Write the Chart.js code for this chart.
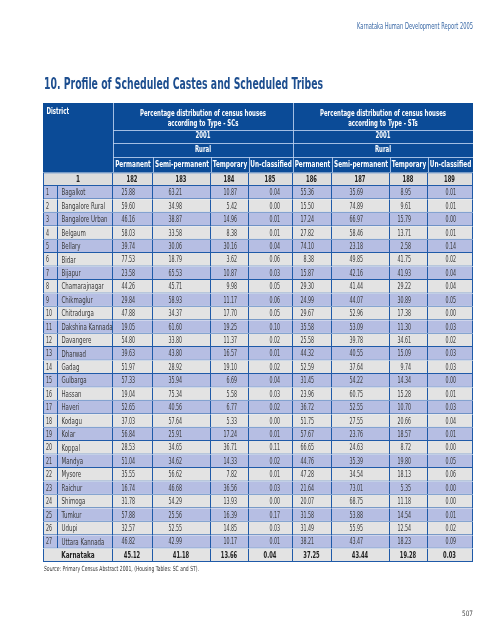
<!DOCTYPE html>
<html><head><meta charset="utf-8">
<script src="https://cdn.jsdelivr.net/npm/chart.js@4"></script>
<style>
html,body{margin:0;padding:0;background:#fff;width:495px;height:640px;overflow:hidden;}
#wrap{position:relative;width:495px;height:640px;}
canvas{position:absolute;left:0;top:0;}
.t{position:absolute;white-space:nowrap;transform-origin:0 50%;font-family:'Liberation Sans Narrow','DejaVu Sans Condensed',sans-serif;}
#runhead{top:23px;font-size:8px;line-height:8px;color:#3a69a6;}
#title{top:76px;font-size:16px;line-height:16px;font-weight:bold;color:#1d4e8f;}
#source{top:565.5px;font-size:7px;line-height:7px;color:#333;}
#pagenum{top:610px;font-size:7.5px;line-height:8px;color:#444;}
</style></head>
<body><div id="wrap">
<canvas id="c" width="495" height="640"></canvas>
<div class="t" id="runhead">Karnataka Human Development Report 2005</div>
<div class="t" id="title">10. Profile of Scheduled Castes and Scheduled Tribes</div>
<div class="t" id="source"><i>Source</i>: Primary Census Abstract 2001, (Housing Tables: SC and ST).</div>
<div class="t" id="pagenum">507</div>
</div>
<script>
// ---------- DATA ----------
const districts = ['Bagalkot','Bangalore Rural','Bangalore Urban','Belgaum','Bellary','Bidar','Bijapur','Chamarajnagar','Chikmaglur','Chitradurga','Dakshina Kannada','Davangere','Dharwad','Gadag','Gulbarga','Hassan','Haveri','Kodagu','Kolar','Koppal','Mandya','Mysore','Raichur','Shimoga','Tumkur','Udupi','Uttara Kannada'];
const scPermanent = ['25.88','59.60','46.16','58.03','39.74','77.53','23.58','44.26','29.84','47.88','19.05','54.80','39.63','51.97','57.33','19.04','52.65','37.03','56.84','28.53','51.04','35.55','16.74','31.78','57.88','32.57','46.82'];
const scSemiPermanent = ['63.21','34.98','38.87','33.58','30.06','18.79','65.53','45.71','58.93','34.37','61.60','33.80','43.80','28.92','35.94','75.34','40.56','57.64','25.91','34.65','34.62','56.62','46.68','54.29','25.56','52.55','42.99'];
const scTemporary = ['10.87','5.42','14.96','8.38','30.16','3.62','10.87','9.98','11.17','17.70','19.25','11.37','16.57','19.10','6.69','5.58','6.77','5.33','17.24','36.71','14.33','7.82','36.56','13.93','16.39','14.85','10.17'];
const scUnclassified = ['0.04','0.00','0.01','0.01','0.04','0.06','0.03','0.05','0.06','0.05','0.10','0.02','0.01','0.02','0.04','0.03','0.02','0.00','0.01','0.11','0.02','0.01','0.03','0.00','0.17','0.03','0.01'];
const stPermanent = ['55.36','15.50','17.24','27.82','74.10','8.38','15.87','29.30','24.99','29.67','35.58','25.58','44.32','52.59','31.45','23.96','36.72','51.75','57.67','66.65','44.76','47.28','21.64','20.07','31.58','31.49','38.21'];
const stSemiPermanent = ['35.69','74.89','66.97','58.46','23.18','49.85','42.16','41.44','44.07','52.96','53.09','39.78','40.55','37.64','54.22','60.75','52.55','27.55','23.76','24.63','35.39','34.54','73.01','68.75','53.88','55.95','43.47'];
const stTemporary = ['8.95','9.61','15.79','13.71','2.58','41.75','41.93','29.22','30.89','17.38','11.30','34.61','15.09','9.74','14.34','15.28','10.70','20.66','18.57','8.72','19.80','18.13','5.35','11.18','14.54','12.54','18.23'];
const stUnclassified = ['0.01','0.01','0.00','0.01','0.14','0.02','0.04','0.04','0.05','0.00','0.03','0.02','0.03','0.03','0.00','0.01','0.03','0.04','0.01','0.00','0.05','0.06','0.00','0.00','0.01','0.02','0.09'];
const stateName = 'Karnataka';
const scState = ['45.12','41.18','13.66','0.04'];
const stState = ['37.25','43.44','19.28','0.03'];
const columnNumbers = ['1','182','183','184','185','186','187','188','189'];
const typeLabels = ['Permanent','Semi-permanent','Temporary','Un-classified'];
const groupHeadings = [['Percentage distribution of census houses','according to Type - SCs'],['Percentage distribution of census houses','according to Type - STs']];
const yearLabel = '2001';
const areaLabel = 'Rural';
const districtHeader = 'District';

// ---------- LAYOUT ----------
const colWidths = [15, 55, 40, 58, 38, 44, 39, 58, 38, 45];
const valuePad = [18, 29, 12, 13, 18, 27, 17, 17];
const headerRowHeights = [26.5, 13.5, 14, 15.5];
const FONT = "'Liberation Sans Narrow','DejaVu Sans Condensed',sans-serif";
const C = {head:'#0b4b97', headLine:'rgba(190,210,240,0.85)', grid:'#1f5aa8', odd:'#b6bee3', even:'#e3e3e3', numRow:'#dcdcdc', text:'#3a3a3a', bold:'#222'};

const valueCols = [scPermanent, scSemiPermanent, scTemporary, scUnclassified, stPermanent, stSemiPermanent, stTemporary, stUnclassified];
const stateVals = scState.concat(stState);
const rowLabels = [columnNumbers[0]].concat(districts, [stateName]);
const N = rowLabels.length;

function rowFill(i){ if(i===0) return C.numRow; if(i===N-1) return C.even; return (i%2===1)?C.odd:C.even; }

const datasets = colWidths.map((w,j)=>({
  data: rowLabels.map(()=>w),
  backgroundColor: ctx=>rowFill(ctx.dataIndex),
  borderColor: C.grid,
  borderSkipped: false,
  inflateAmount: 0,
  borderWidth: ctx=>{
    const i=ctx.dataIndex, merged=(i===0||i===N-1);
    return {top: i===0?1:0, bottom:1, left: j===0?1:0, right: (merged&&j===0)?0:1};
  },
  barPercentage:1, categoryPercentage:1
}));

const SC = {};
function calib(ctx){
  const m=(s,b,sz)=>{ctx.font=(b?'bold ':'')+sz+'px '+FONT; return ctx.measureText(s).width;};
  SC.text = 51/m('Dakshina Kannada',false,8.5);
  SC.num = 13.6/m('25.88',false,8);
  SC.boldNum = 16.4/m('45.12',true,8.5);
  SC.head = 126/m('Percentage distribution of census houses',true,8.5);
  SC.label = 54/m('Semi-permanent',true,8.5);
}
function txt(ctx, s, x, y, align, bold, size, k){
  ctx.save();
  ctx.font = (bold?'bold ':'')+size+'px '+FONT;
  ctx.translate(x,y); ctx.scale(k,1);
  ctx.textAlign = align; ctx.textBaseline='middle';
  ctx.fillText(s,0,0);
  ctx.restore();
}

const tablePlugin = {
  id:'tableText',
  beforeDatasetsDraw(chart){
    const ctx=chart.ctx, xs=chart.scales.x, a=chart.chartArea;
    ctx.save(); calib(ctx); ctx.restore();
    const cum=[0]; colWidths.forEach(w=>cum.push(cum[cum.length-1]+w));
    const X = cum.map(v=>xs.getPixelForValue(v));
    const H = headerRowHeights.reduce((p,c)=>p+c,0);
    const top = a.top - H;
    const ys=[top]; headerRowHeights.forEach(h=>ys.push(ys[ys.length-1]+h));
    ctx.save();
    ctx.fillStyle=C.head; ctx.fillRect(X[0], top, X[10]-X[0], H);
    ctx.strokeStyle=C.headLine; ctx.lineWidth=1;
    ctx.beginPath();
    for(let r=1;r<4;r++){ ctx.moveTo(X[2], Math.round(ys[r])+0.5); ctx.lineTo(X[10], Math.round(ys[r])+0.5); }
    [2,6].forEach(k=>{ ctx.moveTo(Math.round(X[k])+0.5, top); ctx.lineTo(Math.round(X[k])+0.5, a.top); });
    [3,4,5,7,8,9].forEach(k=>{ ctx.moveTo(Math.round(X[k])+0.5, ys[3]); ctx.lineTo(Math.round(X[k])+0.5, a.top); });
    ctx.stroke();
    ctx.fillStyle='#fff';
    txt(ctx, districtHeader, X[0]+3.5, top+8.7, 'left', true, 8, SC.label);
    [[2,6],[6,10]].forEach(([s,e],g)=>{
      const cx=(X[s]+X[e])/2;
      txt(ctx, groupHeadings[g][0], cx, top+10.3, 'center', true, 8.5, SC.head);
      txt(ctx, groupHeadings[g][1], cx, top+20.3, 'center', true, 8.5, SC.head);
      txt(ctx, yearLabel, cx, (ys[1]+ys[2])/2, 'center', true, 8.5, SC.head);
      txt(ctx, areaLabel, cx, (ys[2]+ys[3])/2, 'center', true, 8.5, SC.head);
      for(let k=0;k<4;k++){
        txt(ctx, typeLabels[k], (X[s+k]+X[s+k+1])/2, (ys[3]+ys[4])/2+0.5, 'center', true, 8.5, SC.label);
      }
    });
    ctx.restore();
  },
  afterDatasetsDraw(chart){
    const ctx=chart.ctx;
    const metas = colWidths.map((w,j)=>chart.getDatasetMeta(j).data);
    ctx.save();
    for(let i=0;i<N;i++){
      const y = metas[0][i].y+0.5;
      const merged = (i===0||i===N-1);
      if(merged){
        const cx=(metas[0][i].base+metas[1][i].x)/2;
        ctx.fillStyle=C.bold;
        txt(ctx, i===0?columnNumbers[0]:stateName, cx, y, 'center', true, 8.5, SC.label);
        for(let k=0;k<8;k++){
          const el=metas[k+2][i];
          txt(ctx, i===0?columnNumbers[k+1]:stateVals[k], (el.base+el.x)/2-1, y, 'center', true, 8.5, SC.boldNum);
        }
      } else {
        ctx.fillStyle=C.text;
        txt(ctx, String(i), metas[0][i].base+3, y, 'left', false, 8, SC.num);
        txt(ctx, districts[i-1], metas[1][i].base+3.5, y, 'left', false, 8.5, SC.text);
        for(let k=0;k<8;k++){
          const el=metas[k+2][i];
          txt(ctx, valueCols[k][i-1], el.x-valuePad[k], y, 'right', false, 8, SC.num);
        }
      }
    }
    ctx.restore();
  }
};

new Chart(document.getElementById('c'), {
  type:'bar',
  data:{labels: rowLabels, datasets},
  options:{
    indexAxis:'y', responsive:false, animation:false, devicePixelRatio:1, events:[],
    layout:{padding:{left:43, right:22, top:172.5, bottom:78}},
    plugins:{legend:{display:false}, tooltip:{enabled:false}, title:{display:false}},
    scales:{
      x:{type:'linear', stacked:true, min:0, max:430, display:false},
      y:{type:'category', stacked:true, display:false, offset:true}
    }
  },
  plugins:[tablePlugin]
});

function fit(id, left, width){
  const el=document.getElementById(id);
  const w=el.getBoundingClientRect().width;
  el.style.transform='scaleX('+(width/w)+')';
  el.style.left=left+'px';
}
fit('runhead', 357, 116);
fit('title', 44, 279);
fit('source', 44, 155);
fit('pagenum', 462, 11);
</script>
</body></html>
